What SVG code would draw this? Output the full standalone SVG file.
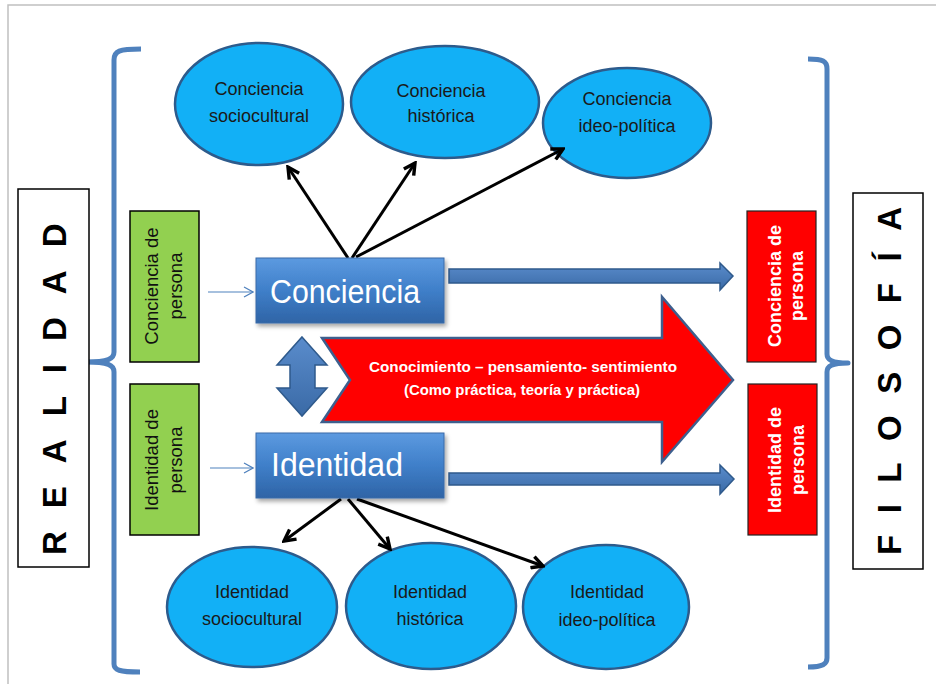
<svg xmlns="http://www.w3.org/2000/svg" width="936" height="684" viewBox="0 0 936 684">
<style>
  .ell{fill:#12b0f6;stroke:#2d5b8c;stroke-width:2.5}
  .etxt{font-family:"Liberation Sans",Arial,sans-serif;font-size:18px;fill:#1a1a1a;text-anchor:middle}
  .green{fill:#92d050;stroke:#000;stroke-width:1.5}
  .red{fill:#ff0000;stroke:#222;stroke-width:1.2}
  .gtxt{font-family:"Liberation Sans",Arial,sans-serif;font-size:18.5px;fill:#111;text-anchor:middle}
  .rtxt{font-family:"Liberation Sans",Arial,sans-serif;font-size:18px;font-weight:bold;fill:#fff;text-anchor:middle}
  .big{font-family:"Liberation Sans",Arial,sans-serif;font-size:33px;font-weight:bold;fill:#000}
  .frame{fill:#fff;stroke:#000;stroke-width:1.5}
  .bracket{fill:none;stroke:#4f81bd;stroke-width:5;stroke-linecap:butt;stroke-linejoin:round}
  .btxt{font-family:"Liberation Sans",Arial,sans-serif;font-size:34px;fill:#fff}
  .conn{stroke:#000;stroke-width:3;fill:none}
  .thin{stroke:#4f81bd;stroke-width:1.2;fill:none}
  .fat{fill:url(#gArrow);stroke:#2f5a8c;stroke-width:1.5}
</style>
<defs>
  <linearGradient id="gBox" x1="0" y1="0" x2="0" y2="1">
    <stop offset="0" stop-color="#5c9ae0"/>
    <stop offset="0.5" stop-color="#3f7fc9"/>
    <stop offset="1" stop-color="#2f64a6"/>
  </linearGradient>
  <linearGradient id="gArrow" x1="0" y1="0" x2="0" y2="1">
    <stop offset="0" stop-color="#5a8ccc"/>
    <stop offset="1" stop-color="#3a6aa6"/>
  </linearGradient>
  <filter id="sh" x="-10%" y="-10%" width="130%" height="140%">
    <feDropShadow dx="2" dy="3" stdDeviation="2" flood-color="#000" flood-opacity="0.35"/>
  </filter>
  <marker id="ah" viewBox="0 0 14 14" refX="12" refY="7" markerWidth="15" markerHeight="15" markerUnits="userSpaceOnUse" orient="auto">
    <path d="M1.5,1.5 L12,7 L1.5,12.5" fill="none" stroke="#000" stroke-width="3.2" stroke-linejoin="miter"/>
  </marker>
  <marker id="ahThin" viewBox="0 0 12 12" refX="11" refY="6" markerWidth="12" markerHeight="12" markerUnits="userSpaceOnUse" orient="auto">
    <path d="M2,1 L11,6 L2,11" fill="none" stroke="#4f81bd" stroke-width="1.2"/>
  </marker>
</defs>

<rect width="936" height="684" fill="#fff"/>
<!-- page border -->
<path d="M8,684 L8,5 L936,5" fill="none" stroke="#c0c0c0" stroke-width="1.5"/>

<!-- brackets -->
<g id="bracket-left">
  <path class="bracket" d="M141,49 C119,49 114,51 114,60 L114,352 C114,359 108,362 86,362 C108,362 114,365 114,372 L114,664 C114,670 119,672 140,672"/>
</g>
<g id="bracket-right">
  <path class="bracket" d="M808,59 C823,59 827,61 827,69 L827,354 C827,360 832,363 848,363 C832,363 827,366 827,372 L827,658 C827,664 823,667 808,667"/>
</g>

<!-- side labels -->
<g id="realidad">
  <rect class="frame" x="18" y="189" width="71" height="378"/>
  <text class="big" transform="translate(66,555) rotate(-90)" letter-spacing="23">REALIDAD</text>
</g>
<g id="filosofia">
  <rect class="frame" x="853" y="193" width="70" height="376"/>
  <text class="big" transform="translate(901,555) rotate(-90)" letter-spacing="21.5">FILOSOFÍA</text>
</g>

<!-- green boxes -->
<g id="green-conciencia">
  <rect class="green" x="130" y="211" width="69" height="151"/>
  <text class="gtxt" transform="translate(158,286) rotate(-90)">Conciencia de</text>
  <text class="gtxt" transform="translate(182,286) rotate(-90)">persona</text>
</g>
<g id="green-identidad">
  <rect class="green" x="130" y="384" width="69" height="151"/>
  <text class="gtxt" transform="translate(158,460) rotate(-90)">Identidad de</text>
  <text class="gtxt" transform="translate(182,460) rotate(-90)">persona</text>
</g>

<!-- red boxes -->
<g id="red-conciencia">
  <rect class="red" x="747" y="211" width="69" height="151"/>
  <text class="rtxt" transform="translate(781,286) rotate(-90)">Conciencia de</text>
  <text class="rtxt" transform="translate(803,286) rotate(-90)">persona</text>
</g>
<g id="red-identidad">
  <rect class="red" x="748" y="384" width="69" height="151"/>
  <text class="rtxt" transform="translate(781,460) rotate(-90)">Identidad de</text>
  <text class="rtxt" transform="translate(804,460) rotate(-90)">persona</text>
</g>

<!-- ellipses top -->
<g id="c-socio">
  <ellipse class="ell" cx="259" cy="104" rx="84" ry="61"/>
  <text class="etxt" x="259" y="95">Conciencia</text>
  <text class="etxt" x="259" y="122">sociocultural</text>
</g>
<g id="c-hist">
  <ellipse class="ell" cx="445" cy="102" rx="94" ry="56"/>
  <text class="etxt" x="441" y="97">Conciencia</text>
  <text class="etxt" x="441" y="122">histórica</text>
</g>
<g id="c-ideo">
  <ellipse class="ell" cx="627" cy="123" rx="84" ry="55"/>
  <text class="etxt" x="627" y="105">Conciencia</text>
  <text class="etxt" x="627" y="132">ideo-política</text>
</g>

<!-- ellipses bottom -->
<g id="i-socio">
  <ellipse class="ell" cx="252" cy="607" rx="85" ry="60"/>
  <text class="etxt" x="252" y="598">Identidad</text>
  <text class="etxt" x="252" y="625">sociocultural</text>
</g>
<g id="i-hist">
  <ellipse class="ell" cx="431" cy="606" rx="85" ry="63"/>
  <text class="etxt" x="430" y="598">Identidad</text>
  <text class="etxt" x="430" y="625">histórica</text>
</g>
<g id="i-ideo">
  <ellipse class="ell" cx="606" cy="607" rx="83" ry="62"/>
  <text class="etxt" x="607" y="598">Identidad</text>
  <text class="etxt" x="607" y="626">ideo-política</text>
</g>

<!-- connectors -->
<g id="connectors">
  <line class="conn" x1="348" y1="258" x2="288" y2="167" marker-end="url(#ah)"/>
  <line class="conn" x1="352" y1="258" x2="415" y2="163" marker-end="url(#ah)"/>
  <line class="conn" x1="356" y1="257" x2="563" y2="149" marker-end="url(#ah)"/>
  <line class="conn" x1="341" y1="499" x2="284" y2="541" marker-end="url(#ah)"/>
  <line class="conn" x1="348" y1="499" x2="390" y2="549" marker-end="url(#ah)"/>
  <line class="conn" x1="357" y1="499" x2="543" y2="566" marker-end="url(#ah)"/>
  <line class="thin" x1="208" y1="292" x2="253" y2="292" marker-end="url(#ahThin)"/>
  <line class="thin" x1="210" y1="468" x2="253" y2="468" marker-end="url(#ahThin)"/>
  <polygon class="fat" points="449,269 720,269 720,263 733,276 720,290 720,283 449,283"/>
  <polygon class="fat" points="449,473 720,473 720,465 734,479 720,494 720,485 449,485"/>
  <polygon class="fat" points="302,337 327,365 315,365 315,388 327,388 302,416 277,388 290,388 290,365 277,365"/>
</g>

<!-- big red arrow -->
<g id="red-arrow">
  <polygon points="322,338 662,338 662,297 733,380 662,462 662,422 322,422 350,380" fill="#ff0000" stroke="#3d5f8e" stroke-width="2.5" stroke-linejoin="miter"/>
  <text x="523" y="372" font-family="Liberation Sans, Arial, sans-serif" font-size="14.5" font-weight="bold" fill="#fff" text-anchor="middle" textLength="308" lengthAdjust="spacingAndGlyphs">Conocimiento – pensamiento- sentimiento</text>
  <text x="522" y="395" font-family="Liberation Sans, Arial, sans-serif" font-size="14.5" font-weight="bold" fill="#fff" text-anchor="middle" textLength="236" lengthAdjust="spacingAndGlyphs">(Como práctica,  teoría y práctica)</text>
</g>

<!-- blue boxes -->
<g id="conciencia">
  <rect x="256" y="258" width="188" height="65" fill="url(#gBox)" stroke="#3a6aa8" stroke-width="1" filter="url(#sh)"/>
  <text class="btxt" x="270" y="303" textLength="150" lengthAdjust="spacingAndGlyphs">Conciencia</text>
</g>
<g id="identidad">
  <rect x="256" y="433" width="188" height="65" fill="url(#gBox)" stroke="#3a6aa8" stroke-width="1" filter="url(#sh)"/>
  <text class="btxt" x="271" y="476" textLength="132" lengthAdjust="spacingAndGlyphs">Identidad</text>
</g>
</svg>
